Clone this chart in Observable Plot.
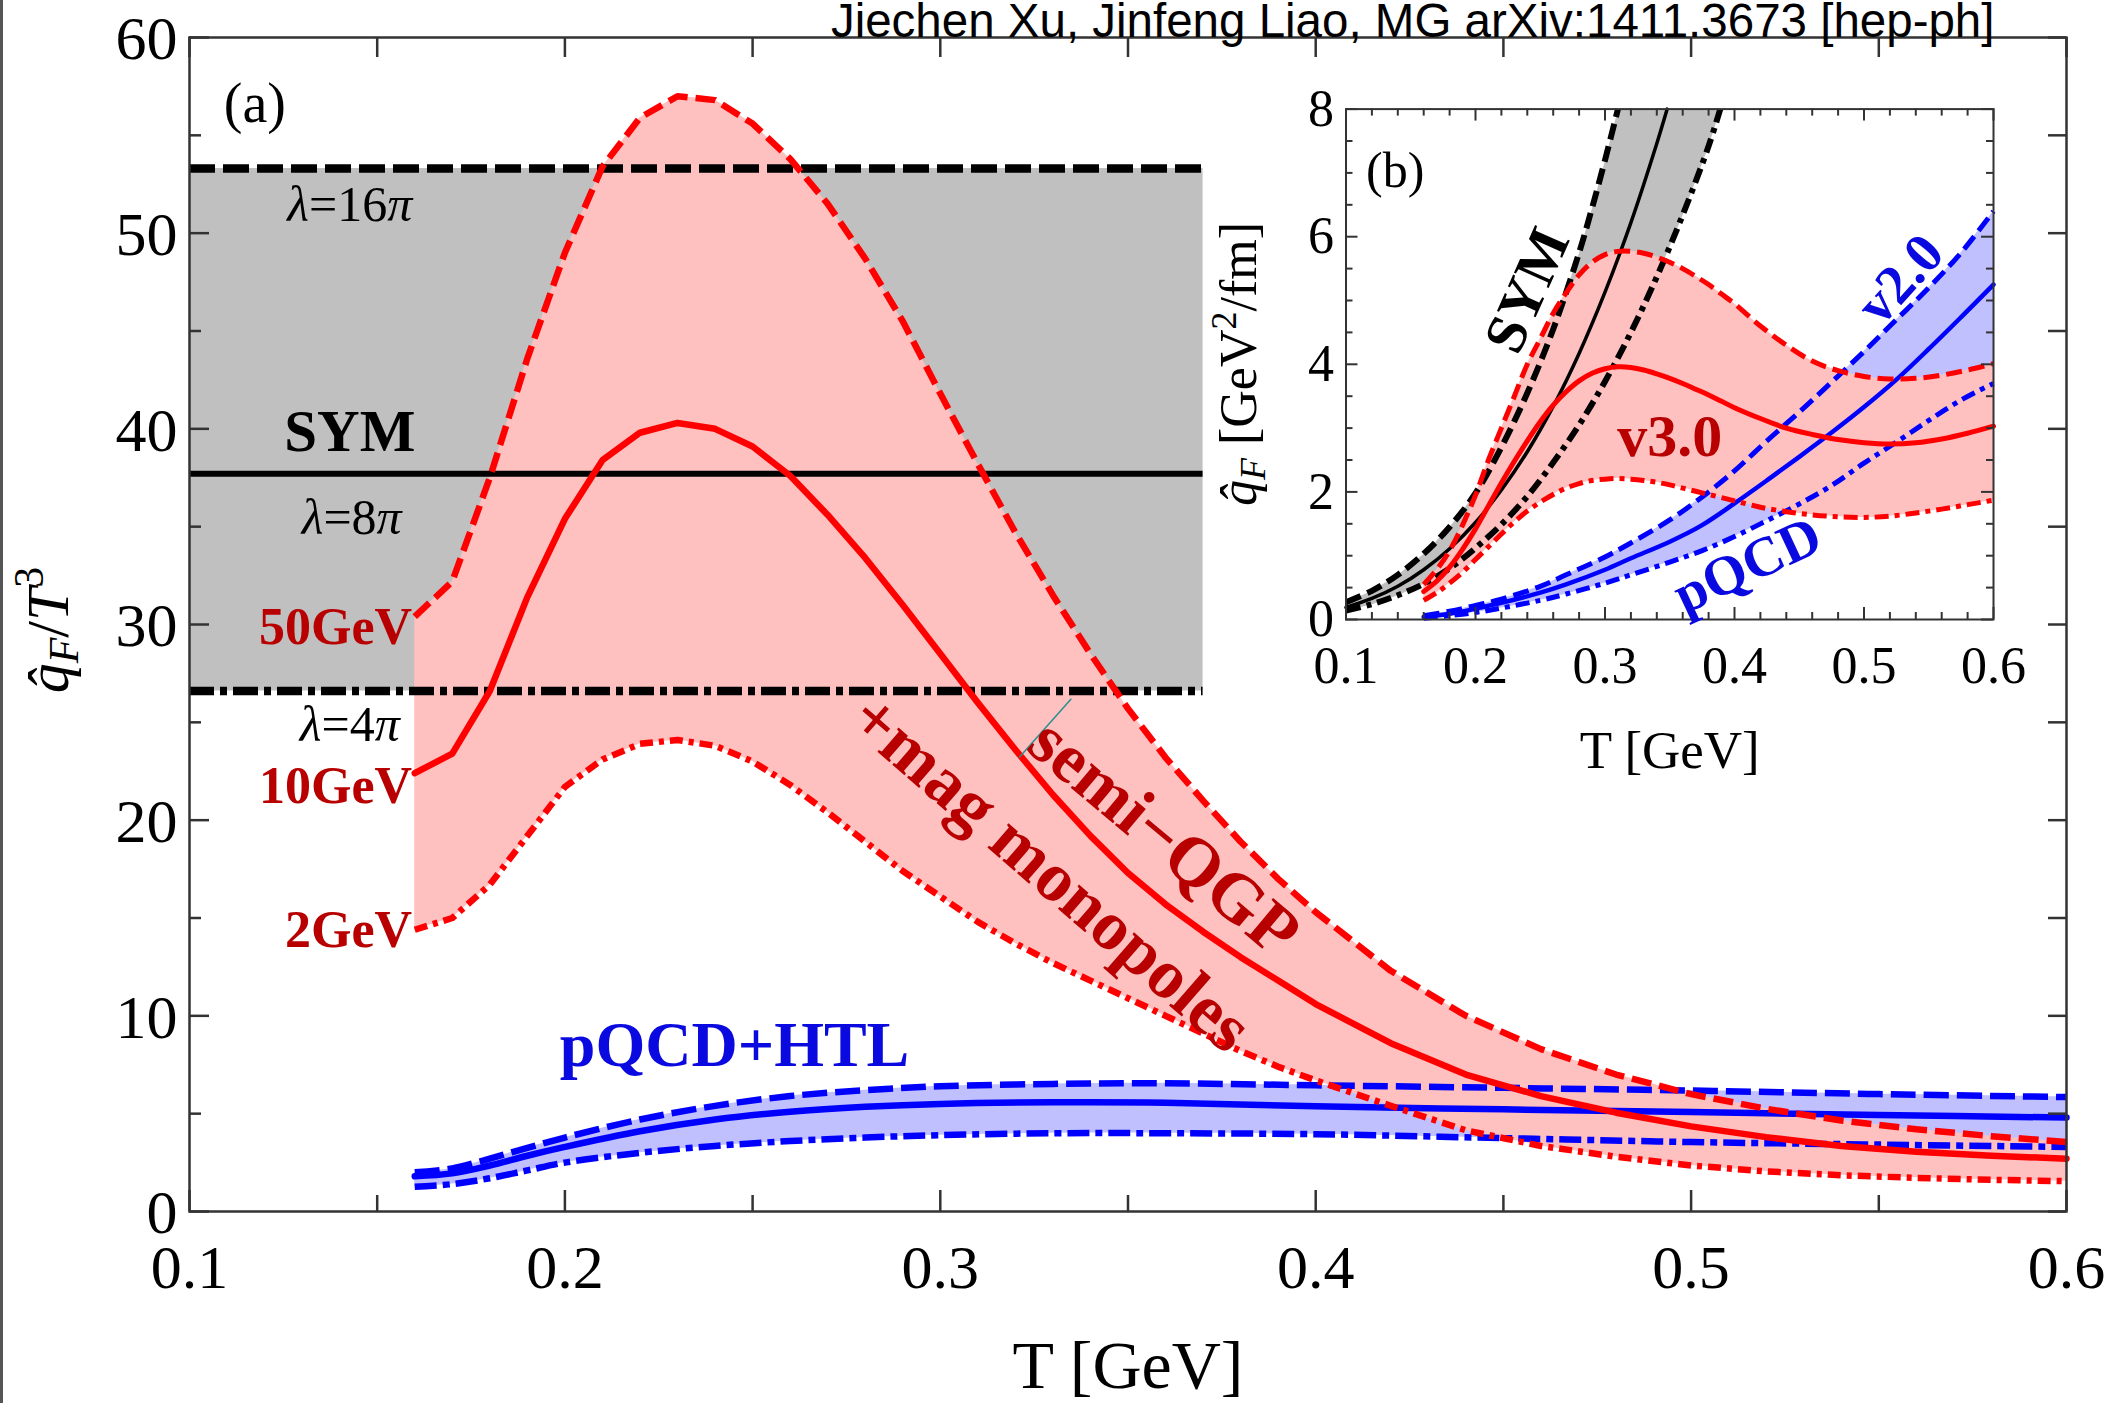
<!DOCTYPE html>
<html><head><meta charset="utf-8">
<script src="https://cdn.jsdelivr.net/npm/d3@7"></script>
<script src="https://cdn.jsdelivr.net/npm/@observablehq/plot@0.6"></script>
<style>
body{margin:0;background:#fff;}
#wrap{position:relative;width:2114px;height:1403px;overflow:hidden;background:#fff;}
#main{position:absolute;left:0;top:0;width:2114px;height:1403px;}
#inset{position:absolute;left:1190px;top:70px;width:830px;height:740px;}
#border{position:absolute;left:0;top:0;width:3px;height:1403px;background:#555;}
svg{overflow:visible;}
</style></head>
<body><div id="wrap"><div id="main"></div><div id="inset"></div><div id="border"></div></div>
<script>
// ---------------- DATA ----------------
const titleText = "Jiechen Xu, Jinfeng Liao, MG arXiv:1411.3673 [hep-ph]";
const mainXMajor = [0.1, 0.2, 0.3, 0.4, 0.5, 0.6];
const mainXMinor = [0.15, 0.25, 0.35, 0.45, 0.55];
const mainYMajor = [0, 10, 20, 30, 40, 50, 60];
const mainYMinor = [5, 15, 25, 35, 45, 55];

// SYM band (main): lambda = 16pi, 8pi, 4pi
const symBandT = [0.1, 0.37];
const sym16 = 53.3, sym8 = 37.7, sym4 = 26.6;

// semi-QGP (main)
const redT   = [0.16,0.17,0.18,0.19,0.20,0.21,0.22,0.23,0.24,0.25,0.26,0.27,0.28,0.29,0.30,0.31,0.32,0.33,0.34,0.35,0.36,0.37,0.38,0.39,0.40,0.42,0.44,0.46,0.48,0.50,0.52,0.54,0.56,0.58,0.60];
const red50  = [30.4,32.2,37.5,43.6,49.0,53.4,55.9,57.0,56.8,55.6,53.8,51.5,48.7,45.5,41.8,38.2,34.7,31.5,28.5,25.7,23.2,21.0,18.9,17.0,15.3,12.3,10.0,8.3,7.0,6.0,5.25,4.65,4.2,3.85,3.55];
const red10  = [22.4,23.4,26.6,31.4,35.4,38.4,39.8,40.3,40.0,39.1,37.6,35.6,33.4,31.0,28.5,26.0,23.6,21.3,19.2,17.3,15.7,14.3,13.0,11.8,10.6,8.6,7.0,5.9,5.05,4.35,3.8,3.35,3.05,2.85,2.7];
const red2   = [14.4,15.0,16.7,19.2,21.7,23.1,23.9,24.1,23.8,23.0,21.8,20.4,18.9,17.4,16.1,14.8,13.7,12.7,11.8,10.9,10.0,9.1,8.2,7.4,6.7,5.4,4.15,3.35,2.8,2.35,2.05,1.85,1.72,1.62,1.55];

// pQCD+HTL (main)
const blueT   = [0.16,0.17,0.18,0.19,0.20,0.22,0.24,0.26,0.28,0.30,0.33,0.36,0.40,0.45,0.50,0.55,0.60];
const blueHi  = [2.0,2.2,2.7,3.25,3.78,4.7,5.4,5.9,6.2,6.4,6.52,6.55,6.45,6.32,6.18,6.0,5.85];
const blueMid = [1.8,1.95,2.35,2.85,3.3,4.1,4.7,5.1,5.35,5.5,5.58,5.56,5.38,5.22,5.08,4.93,4.8];
const blueLo  = [1.26,1.4,1.7,2.1,2.5,3.0,3.35,3.6,3.78,3.9,4.0,4.0,3.95,3.75,3.55,3.42,3.3];

// small pointer stroke near "semi-QGP"
const pointerT = [0.321, 0.3349];
const pointerV = [23.2, 26.2];

// ---- inset (b) ----
const insetXMajor = [0.1, 0.2, 0.3, 0.4, 0.5, 0.6];
const insetYMajor = [0, 2, 4, 6, 8];
const symInHiT  = [0.1,0.12,0.14,0.16,0.18,0.2,0.22,0.24,0.26,0.28,0.29,0.3,0.31];
const symInHi   = [0.27,0.45,0.7,1.03,1.45,1.98,2.7,3.55,4.55,5.75,6.45,7.2,8.0];
const symInMidT = [0.1,0.12,0.14,0.16,0.18,0.2,0.22,0.24,0.26,0.28,0.3,0.32,0.34,0.348];
const symInMid  = [0.19,0.33,0.52,0.78,1.11,1.52,2.03,2.63,3.34,4.17,5.13,6.22,7.46,8.0];
const symInLoT  = [0.1,0.12,0.14,0.16,0.18,0.2,0.22,0.24,0.26,0.28,0.3,0.32,0.34,0.36,0.38,0.389];
const symInLo   = [0.14,0.24,0.38,0.56,0.8,1.12,1.49,1.93,2.46,3.05,3.73,4.5,5.37,6.34,7.42,8.0];

const insetRedHi  = [0.55,0.78,1.08,1.48,1.95,2.5,3.0,3.5,4.0,4.4,4.8,5.12,5.4,5.6,5.72,5.77,5.77,5.74,5.68,5.6,5.5,5.38,5.25,5.1,4.95,4.6,4.3,4.05,3.9,3.81,3.77,3.78,3.83,3.91,4.01];
const insetRedMid = [0.44,0.6,0.82,1.1,1.42,1.78,2.14,2.48,2.8,3.1,3.36,3.57,3.74,3.86,3.93,3.96,3.95,3.91,3.85,3.78,3.7,3.61,3.52,3.42,3.32,3.15,3.0,2.9,2.82,2.77,2.75,2.77,2.83,2.92,3.03];
const insetRedLo  = [0.3,0.42,0.57,0.74,0.94,1.14,1.34,1.53,1.7,1.84,1.96,2.06,2.13,2.18,2.2,2.21,2.2,2.18,2.15,2.11,2.06,2.01,1.96,1.91,1.86,1.76,1.69,1.64,1.61,1.6,1.62,1.67,1.73,1.8,1.87];

const insetBlueT   = [0.16,0.18,0.2,0.22,0.25,0.27,0.3,0.32,0.35,0.375,0.4,0.425,0.45,0.475,0.5,0.525,0.55,0.575,0.6];
const insetBlueHi  = [0.06,0.13,0.22,0.32,0.52,0.7,0.98,1.2,1.56,1.92,2.33,2.8,3.25,3.72,4.2,4.7,5.2,5.75,6.4];
const insetBlueMid = [0.04,0.09,0.17,0.26,0.42,0.55,0.78,0.96,1.22,1.48,1.82,2.18,2.55,2.93,3.33,3.76,4.24,4.74,5.25];
const insetBlueLo  = [0.02,0.06,0.11,0.18,0.3,0.4,0.57,0.7,0.9,1.08,1.3,1.55,1.81,2.1,2.45,2.78,3.12,3.44,3.7];

// ---------------- STYLE ----------------
const SERIF = "Liberation Serif";
const RED = "#ff0000", DARKRED = "#b80000", BLUE = "#0000ff", BLUELBL = "#0a0ae0";
const PINK = "#ffc0c0", LBLUE = "#c0c0ff", GRAY = "#c0c0c0", FRAME = "#333";
const BUTT = "butt";

const redRows = redT.map((t, i) => ({t, hi: red50[i], mid: red10[i], lo: red2[i]}));
const blueRows = blueT.map((t, i) => ({t, hi: blueHi[i], mid: blueMid[i], lo: blueLo[i]}));
const fmt1 = d3.format(".1f");

// italic lambda / pi inside labels like "λ=16π"
function italicizeGreek(svg) {
  d3.select(svg).selectAll("text").each(function () {
    const s = this.textContent;
    if (s.length > 2 && s[0] === "λ" && s[s.length - 1] === "π") {
      const el = d3.select(this);
      el.text("");
      el.append("tspan").attr("font-style", "italic").text("λ");
      el.append("tspan").text(s.slice(1, -1));
      el.append("tspan").attr("font-style", "italic").text("π");
    }
  });
}

// ---------------- MAIN PLOT ----------------
const M = {w: 2114, h: 1403, l: 189, r: 48, t: 37, b: 192};
const innerW = M.w - M.l - M.r, innerH = M.h - M.t - M.b;

function ticksX(vals, len, side, sw) {
  return Plot.ruleX(vals, side === "bottom"
    ? {x: d => d, insetTop: innerH - len, stroke: FRAME, strokeWidth: sw}
    : {x: d => d, insetBottom: innerH - len, stroke: FRAME, strokeWidth: sw});
}
function ticksY(vals, len, side, sw) {
  return Plot.ruleY(vals, side === "left"
    ? {y: d => d, insetRight: innerW - len, stroke: FRAME, strokeWidth: sw}
    : {y: d => d, insetLeft: innerW - len, stroke: FRAME, strokeWidth: sw});
}

const mainSvg = Plot.plot({
  width: M.w, height: M.h, marginLeft: M.l, marginRight: M.r, marginTop: M.t, marginBottom: M.b,
  x: {domain: [0.1, 0.6], axis: null},
  y: {domain: [0, 60], axis: null},
  style: {fontFamily: SERIF, fontSize: "62px", background: "transparent", overflow: "visible", color: "black"},
  marks: [
    Plot.areaY(symBandT, {x: d => d, y1: sym4, y2: sym16, fill: GRAY}),
    Plot.areaY(blueRows, {x: "t", y1: "lo", y2: "hi", fill: LBLUE, curve: "catmull-rom"}),
    Plot.areaY(redRows, {x: "t", y1: "lo", y2: "hi", fill: PINK}),
    Plot.ruleY([sym16], {y: d => d, x1: symBandT[0], x2: symBandT[1], stroke: "black", strokeWidth: 8.5, strokeDasharray: "26,8", strokeLinecap: BUTT}),
    Plot.ruleY([sym8], {y: d => d, x1: symBandT[0], x2: symBandT[1], stroke: "black", strokeWidth: 6}),
    Plot.ruleY([sym4], {y: d => d, x1: symBandT[0], x2: symBandT[1], stroke: "black", strokeWidth: 8.5, strokeDasharray: "25,6,7,6", strokeLinecap: BUTT}),
    Plot.line(blueRows, {x: "t", y: "hi", stroke: BLUE, strokeWidth: 6.5, strokeDasharray: "25,8", strokeLinecap: BUTT, curve: "catmull-rom"}),
    Plot.line(blueRows, {x: "t", y: "mid", stroke: BLUE, strokeWidth: 6.5, curve: "catmull-rom"}),
    Plot.line(blueRows, {x: "t", y: "lo", stroke: BLUE, strokeWidth: 6.5, strokeDasharray: "22,6,7,6", strokeLinecap: BUTT, curve: "catmull-rom"}),
    Plot.line(redRows, {x: "t", y: "hi", stroke: RED, strokeWidth: 6.5, strokeDasharray: "20,8", strokeLinecap: BUTT}),
    Plot.line(redRows, {x: "t", y: "mid", stroke: RED, strokeWidth: 6.5}),
    Plot.line(redRows, {x: "t", y: "lo", stroke: RED, strokeWidth: 6.5, strokeDasharray: "13,6,5,6", strokeLinecap: BUTT}),
    Plot.link([0], {x1: pointerT[0], y1: pointerV[0], x2: pointerT[1], y2: pointerV[1], stroke: "#2a8f8f", strokeWidth: 1.5}),
    // frame & ticks
    Plot.frame({stroke: FRAME, strokeWidth: 2.5}),
    ticksX(mainXMajor, 21, "bottom", 2.5), ticksX(mainXMinor, 16, "bottom", 2.5),
    ticksX(mainXMajor, 20, "top", 2.5), ticksX(mainXMinor, 20, "top", 2.5),
    ticksY(mainYMajor, 20, "left", 2.5), ticksY(mainYMinor, 12, "left", 2.5),
    ticksY(mainYMajor.concat(mainYMinor), 18, "right", 2.5),
    // tick labels
    Plot.text(mainXMajor, {x: d => d, frameAnchor: "bottom", dy: 76, lineAnchor: "bottom", text: d => fmt1(d), fontFamily: SERIF, fontSize: 62, fill: "black"}),
    Plot.text(mainYMajor, {y: d => d, frameAnchor: "left", dx: -12, dy: 2, textAnchor: "end", lineAnchor: "middle", text: d => String(d), fontFamily: SERIF, fontSize: 62, fill: "black"}),
    Plot.text(["T [GeV]"], {frameAnchor: "bottom", dy: 176, lineAnchor: "bottom", fontFamily: SERIF, fontSize: 68, fill: "black"}),
    Plot.text([titleText], {frameAnchor: "top-right", dx: -72, dy: -1, textAnchor: "end", lineAnchor: "bottom", fontFamily: "Liberation Sans", fontSize: 47.5, fill: "black"}),
    // annotations
    Plot.text(["(a)"], {x: 0.1174, y: 56.6, lineAnchor: "middle", fontFamily: SERIF, fontSize: 56, fill: "black"}),
    Plot.text(["λ=16π"], {x: 0.1427, y: 50.6, lineAnchor: "bottom", fontFamily: SERIF, fontSize: 50, fill: "black"}),
    Plot.text(["SYM"], {x: 0.1427, y: 38.85, lineAnchor: "bottom", fontFamily: SERIF, fontSize: 59, fontWeight: "bold", fill: "black"}),
    Plot.text(["λ=8π"], {x: 0.1432, y: 34.6, lineAnchor: "bottom", fontFamily: SERIF, fontSize: 50, fill: "black"}),
    Plot.text(["λ=4π"], {x: 0.1427, y: 24.05, lineAnchor: "bottom", fontFamily: SERIF, fontSize: 50, fill: "black"}),
    Plot.text(["50GeV"], {x: 0.1593, y: 29.0, textAnchor: "end", lineAnchor: "bottom", fontFamily: SERIF, fontSize: 52, fontWeight: "bold", fill: DARKRED}),
    Plot.text(["10GeV"], {x: 0.1593, y: 20.9, textAnchor: "end", lineAnchor: "bottom", fontFamily: SERIF, fontSize: 52, fontWeight: "bold", fill: DARKRED}),
    Plot.text(["2GeV"], {x: 0.1593, y: 13.5, textAnchor: "end", lineAnchor: "bottom", fontFamily: SERIF, fontSize: 52, fontWeight: "bold", fill: DARKRED}),
    Plot.text(["pQCD+HTL"], {x: 0.2452, y: 7.43, lineAnchor: "bottom", fontFamily: SERIF, fontSize: 64, fontWeight: "bold", fill: BLUELBL}),
    Plot.text(["semi−QGP"], {x: 0.3597, y: 19.13, rotate: 40, lineAnchor: "middle", fontFamily: SERIF, fontSize: 70, fontWeight: "bold", fill: DARKRED}),
    Plot.text(["+mag monopoles"], {x: 0.3295, y: 17.3, rotate: 41, lineAnchor: "middle", fontFamily: SERIF, fontSize: 70, fontWeight: "bold", fill: DARKRED})
  ]
});
document.getElementById("main").appendChild(mainSvg);
italicizeGreek(mainSvg);

// main y-axis label with sub/superscript
{
  const t = d3.select(mainSvg).append("text")
    .attr("transform", "translate(68,630) rotate(-90)")
    .attr("text-anchor", "middle").attr("font-family", SERIF).attr("font-size", 60).attr("fill", "black");
  t.append("tspan").attr("font-style", "italic").text("q\u0302");
  t.append("tspan").attr("font-style", "italic").attr("font-size", 42).attr("dy", 10).text("F");
  t.append("tspan").attr("dy", -10).text("/");
  t.append("tspan").attr("font-style", "italic").text("T");
  t.append("tspan").attr("font-size", 42).attr("dy", -25).text("3");
}

// ---------------- INSET PLOT ----------------
const I = {w: 830, h: 740, l: 155.5, r: 27, t: 38.6, b: 191};
const iW = I.w - I.l - I.r, iH = I.h - I.t - I.b;
const insetXMinor = d3.range(0.12, 0.6, 0.02).filter(v => Math.abs(v * 10 - Math.round(v * 10)) > 1e-6);
const insetYMinor = d3.range(0.5, 8, 0.5).filter(v => v % 2 !== 0);

const symPoly = symInHiT.map((t, i) => ({t, v: symInHi[i]}))
  .concat(symInLoT.map((t, i) => ({t, v: symInLo[i]})).reverse());
const symHiRows = symInHiT.map((t, i) => ({t, v: symInHi[i]}));
const symMidRows = symInMidT.map((t, i) => ({t, v: symInMid[i]}));
const symLoRows = symInLoT.map((t, i) => ({t, v: symInLo[i]}));
const iRedRows = redT.map((t, i) => ({t, hi: insetRedHi[i], mid: insetRedMid[i], lo: insetRedLo[i]}));
const iBlueRows = insetBlueT.map((t, i) => ({t, hi: insetBlueHi[i], mid: insetBlueMid[i], lo: insetBlueLo[i]}));

function iTicksX(vals, len, side) {
  return Plot.ruleX(vals, side === "bottom"
    ? {x: d => d, insetTop: iH - len, stroke: FRAME, strokeWidth: 2}
    : {x: d => d, insetBottom: iH - len, stroke: FRAME, strokeWidth: 2});
}
function iTicksY(vals, len, side) {
  return Plot.ruleY(vals, side === "left"
    ? {y: d => d, insetRight: iW - len, stroke: FRAME, strokeWidth: 2}
    : {y: d => d, insetLeft: iW - len, stroke: FRAME, strokeWidth: 2});
}

const insetSvg = Plot.plot({
  width: I.w, height: I.h, marginLeft: I.l, marginRight: I.r, marginTop: I.t, marginBottom: I.b,
  x: {domain: [0.1, 0.6], axis: null},
  y: {domain: [0, 8], axis: null},
  style: {fontFamily: SERIF, fontSize: "52px", background: "transparent", overflow: "visible", color: "black"},
  marks: [
    Plot.line(symPoly, {x: "t", y: "v", fill: GRAY, stroke: null, curve: "linear"}),
    Plot.areaY(iBlueRows, {x: "t", y1: "lo", y2: "hi", fill: LBLUE, curve: "catmull-rom"}),
    Plot.areaY(iRedRows, {x: "t", y1: "lo", y2: "hi", fill: PINK, curve: "catmull-rom"}),
    Plot.line(symHiRows, {x: "t", y: "v", stroke: "black", strokeWidth: 6, strokeDasharray: "16,7", strokeLinecap: BUTT, curve: "catmull-rom"}),
    Plot.line(symMidRows, {x: "t", y: "v", stroke: "black", strokeWidth: 3.5, curve: "catmull-rom"}),
    Plot.line(symLoRows, {x: "t", y: "v", stroke: "black", strokeWidth: 6, strokeDasharray: "15,6,5,6", strokeLinecap: BUTT, curve: "catmull-rom"}),
    Plot.line(iBlueRows, {x: "t", y: "hi", stroke: BLUE, strokeWidth: 5, strokeDasharray: "16,7", strokeLinecap: BUTT, curve: "catmull-rom"}),
    Plot.line(iBlueRows, {x: "t", y: "mid", stroke: BLUE, strokeWidth: 4.5, curve: "catmull-rom"}),
    Plot.line(iBlueRows, {x: "t", y: "lo", stroke: BLUE, strokeWidth: 5, strokeDasharray: "14,6,5,6", strokeLinecap: BUTT, curve: "catmull-rom"}),
    Plot.line(iRedRows, {x: "t", y: "hi", stroke: RED, strokeWidth: 5, strokeDasharray: "16,7", strokeLinecap: BUTT, curve: "catmull-rom"}),
    Plot.line(iRedRows, {x: "t", y: "mid", stroke: RED, strokeWidth: 5, curve: "catmull-rom"}),
    Plot.line(iRedRows, {x: "t", y: "lo", stroke: RED, strokeWidth: 5, strokeDasharray: "14,6,5,6", strokeLinecap: BUTT, curve: "catmull-rom"}),
    Plot.frame({stroke: FRAME, strokeWidth: 2}),
    iTicksX(insetXMajor, 12, "bottom"), iTicksX(insetXMinor, 7, "bottom"),
    iTicksX(insetXMajor, 12, "top"), iTicksX(insetXMinor, 7, "top"),
    iTicksY(insetYMajor, 12, "left"), iTicksY(insetYMinor, 7, "left"),
    iTicksY(insetYMajor, 12, "right"), iTicksY(insetYMinor, 7, "right"),
    Plot.text(insetXMajor, {x: d => d, frameAnchor: "bottom", dy: 63, lineAnchor: "bottom", text: d => fmt1(d), fontFamily: SERIF, fontSize: 52, fill: "black"}),
    Plot.text(insetYMajor, {y: d => d, frameAnchor: "left", dx: -12, textAnchor: "end", lineAnchor: "middle", text: d => String(d), fontFamily: SERIF, fontSize: 52, fill: "black"}),
    Plot.text(["T [GeV]"], {frameAnchor: "bottom", dy: 148, lineAnchor: "bottom", fontFamily: SERIF, fontSize: 53, fill: "black"}),
    Plot.text(["(b)"], {x: 0.138, y: 7.03, lineAnchor: "middle", fontFamily: SERIF, fontSize: 50, fill: "black"}),
    Plot.text(["SYM"], {x: 0.24, y: 5.16, rotate: -66, lineAnchor: "middle", fontFamily: SERIF, fontSize: 58, fontWeight: "bold", fill: "black"}),
    Plot.text(["v3.0"], {x: 0.35, y: 2.86, lineAnchor: "middle", fontFamily: SERIF, fontSize: 60, fontWeight: "bold", fill: DARKRED}),
    Plot.text(["v2.0"], {x: 0.528, y: 5.33, rotate: -48, lineAnchor: "middle", fontFamily: SERIF, fontSize: 56, fontWeight: "bold", fill: BLUELBL}),
    Plot.text(["pQCD"], {x: 0.41, y: 0.85, rotate: -25, lineAnchor: "middle", fontFamily: SERIF, fontSize: 56, fontWeight: "bold", fill: BLUELBL})
  ]
});
document.getElementById("inset").appendChild(insetSvg);

{
  const t = d3.select(insetSvg).append("text")
    .attr("transform", "translate(66,294) rotate(-90)")
    .attr("text-anchor", "middle").attr("font-family", SERIF).attr("font-size", 52).attr("fill", "black");
  t.append("tspan").attr("font-style", "italic").text("q\u0302");
  t.append("tspan").attr("font-style", "italic").attr("font-size", 36).attr("dy", 9).text("F");
  t.append("tspan").attr("dy", -9).text(" [GeV");
  t.append("tspan").attr("font-size", 36).attr("dy", -20).text("2");
  t.append("tspan").attr("dy", 20).text("/fm]");
}
</script>
</body></html>
